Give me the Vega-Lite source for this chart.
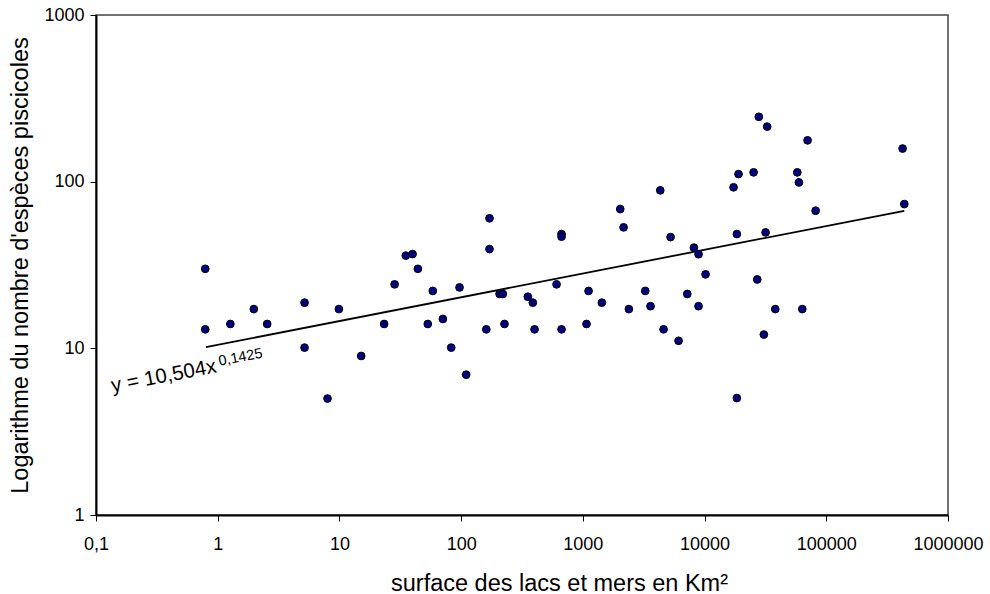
{
  "$schema": "https://vega.github.io/schema/vega-lite/v6.json",
  "width": 852,
  "height": 500,
  "autosize": {"type": "none"},
  "padding": {"left": 96, "top": 15, "right": 42, "bottom": 79},
  "background": "white",
  "config": {
    "font": "Liberation Sans",
    "view": {"stroke": "#444444", "strokeWidth": 1.5},
    "axis": {"grid": false, "domainColor": "black", "domainWidth": 2, "tickColor": "black", "tickWidth": 1, "tickSize": 6, "labelFont": "Liberation Sans", "labelFontSize": 18, "labelColor": "black", "titleFont": "Liberation Sans", "titleFontSize": 23.5, "titleFontWeight": "normal", "titleColor": "black"}
  },
  "datasets": {
    "points": [
      {"surface": 0.79, "especes": 30},
      {"surface": 0.79, "especes": 13},
      {"surface": 1.27, "especes": 14},
      {"surface": 1.98, "especes": 17.2},
      {"surface": 2.55, "especes": 14},
      {"surface": 5.17, "especes": 18.8},
      {"surface": 5.17, "especes": 10.1},
      {"surface": 7.98, "especes": 5},
      {"surface": 9.89, "especes": 17.2},
      {"surface": 15.1, "especes": 9},
      {"surface": 23.3, "especes": 14},
      {"surface": 28.4, "especes": 24.2},
      {"surface": 35.1, "especes": 36},
      {"surface": 39.9, "especes": 36.8},
      {"surface": 44.1, "especes": 30},
      {"surface": 53.2, "especes": 14},
      {"surface": 58.5, "especes": 22.1},
      {"surface": 70.8, "especes": 15},
      {"surface": 82.9, "especes": 10.1},
      {"surface": 97, "especes": 23.2},
      {"surface": 110, "especes": 6.95},
      {"surface": 161, "especes": 13},
      {"surface": 171, "especes": 60.3},
      {"surface": 171, "especes": 39.4},
      {"surface": 207, "especes": 21.2},
      {"surface": 220, "especes": 21.2},
      {"surface": 227, "especes": 14},
      {"surface": 353, "especes": 20.4},
      {"surface": 388, "especes": 18.8},
      {"surface": 401, "especes": 13},
      {"surface": 608, "especes": 24.2},
      {"surface": 668, "especes": 13},
      {"surface": 668, "especes": 48.5},
      {"surface": 668, "especes": 46.8},
      {"surface": 1072, "especes": 14},
      {"surface": 1114, "especes": 22.1},
      {"surface": 1432, "especes": 18.8},
      {"surface": 2028, "especes": 68.5},
      {"surface": 2160, "especes": 53.2},
      {"surface": 2388, "especes": 17.2},
      {"surface": 3257, "especes": 22.1},
      {"surface": 3597, "especes": 17.9},
      {"surface": 4325, "especes": 88.7},
      {"surface": 4603, "especes": 13},
      {"surface": 5255, "especes": 46.5},
      {"surface": 6115, "especes": 11.1},
      {"surface": 7208, "especes": 21.2},
      {"surface": 8170, "especes": 40.2},
      {"surface": 8925, "especes": 36.7},
      {"surface": 8925, "especes": 17.9},
      {"surface": 10190, "especes": 27.8},
      {"surface": 17300, "especes": 92.5},
      {"surface": 18420, "especes": 48.5},
      {"surface": 18420, "especes": 5.03},
      {"surface": 19010, "especes": 111},
      {"surface": 25280, "especes": 113.7},
      {"surface": 27100, "especes": 25.9},
      {"surface": 27900, "especes": 245},
      {"surface": 30700, "especes": 12.1},
      {"surface": 31700, "especes": 49.6},
      {"surface": 32700, "especes": 214},
      {"surface": 38100, "especes": 17.2},
      {"surface": 57800, "especes": 113.7},
      {"surface": 59600, "especes": 99},
      {"surface": 63500, "especes": 17.2},
      {"surface": 70200, "especes": 177},
      {"surface": 81700, "especes": 67},
      {"surface": 423600, "especes": 158},
      {"surface": 437500, "especes": 73.4}
    ],
    "trend": [
      {"surface": 0.8, "especes": 10.17},
      {"surface": 437500, "especes": 66.9}
    ],
    "labels": [
      {"surface": 0.1367, "especes": 5.45, "txt": "y = 10,504x", "kind": "main"},
      {"surface": 1.035, "especes": 7.85, "txt": "0,1425", "kind": "sup"}
    ]
  },
  "layer": [
    {
      "data": {"name": "trend"},
      "mark": {"type": "line", "color": "black", "strokeWidth": 1.8},
      "encoding": {
        "x": {"field": "surface", "type": "quantitative", "scale": {"type": "log", "domain": [0.1, 1000000], "nice": false},
          "axis": {"title": "surface des lacs et mers en Km²", "values": [0.1, 1, 10, 100, 1000, 10000, 100000, 1000000], "labelExpr": "datum.value < 1 ? '0,1' : format(datum.value, 'd')", "labelPadding": 14, "labelFlush": false, "labelOverlap": false, "titleX": 463, "titleY": 56}},
        "y": {"field": "especes", "type": "quantitative", "scale": {"type": "log", "domain": [1, 1000], "nice": false},
          "axis": {"title": "Logarithme du nombre d'espèces piscicoles", "values": [1, 10, 100, 1000], "format": "d", "labelPadding": 6, "titlePadding": 11, "labelFlush": false, "labelOverlap": false}}
      }
    },
    {
      "data": {"name": "points"},
      "mark": {"type": "point", "shape": "circle", "filled": true, "fill": "#000080", "stroke": "black", "strokeWidth": 1, "size": 60, "opacity": 1},
      "encoding": {
        "x": {"field": "surface", "type": "quantitative"},
        "y": {"field": "especes", "type": "quantitative"}
      }
    },
    {
      "data": {"name": "labels"},
      "transform": [{"filter": "datum.kind == 'main'"}],
      "mark": {"type": "text", "align": "left", "baseline": "alphabetic", "angle": -10.8, "fontSize": 20.5, "color": "black", "font": "Liberation Sans"},
      "encoding": {
        "x": {"field": "surface", "type": "quantitative"},
        "y": {"field": "especes", "type": "quantitative"},
        "text": {"field": "txt"}
      }
    },
    {
      "data": {"name": "labels"},
      "transform": [{"filter": "datum.kind == 'sup'"}],
      "mark": {"type": "text", "align": "left", "baseline": "alphabetic", "angle": -10.8, "fontSize": 14.5, "color": "black", "font": "Liberation Sans"},
      "encoding": {
        "x": {"field": "surface", "type": "quantitative"},
        "y": {"field": "especes", "type": "quantitative"},
        "text": {"field": "txt"}
      }
    }
  ]
}
